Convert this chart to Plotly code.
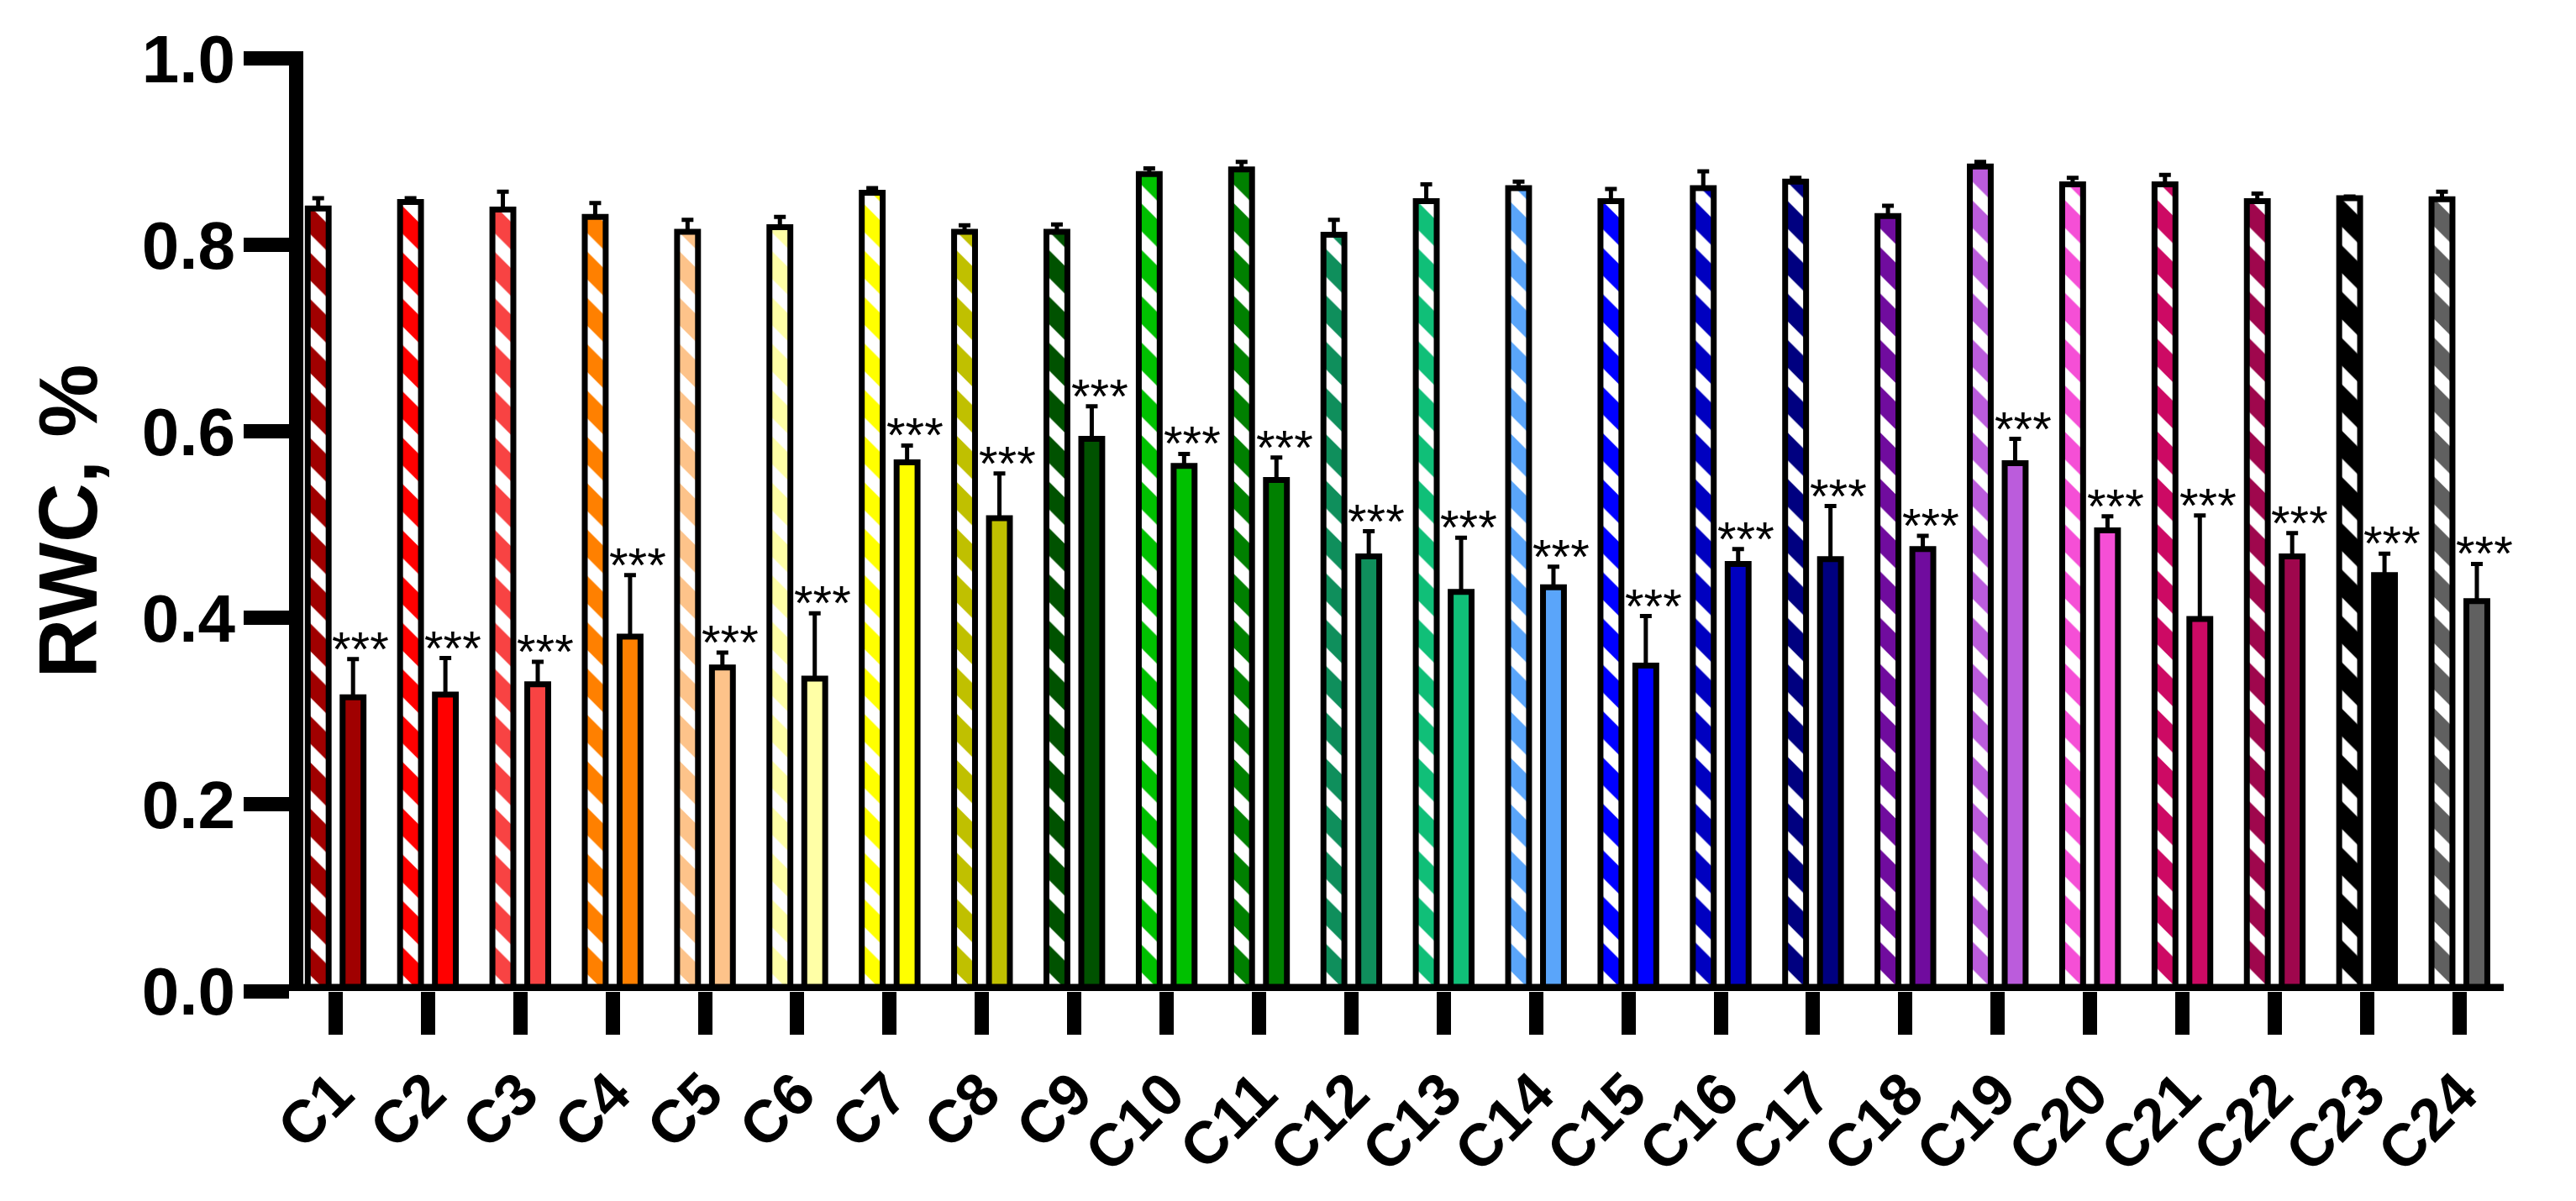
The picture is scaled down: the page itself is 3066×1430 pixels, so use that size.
import plotly.graph_objects as go

# === Data ===
CATEGORIES = [f"C{i}" for i in range(1, 25)]

CONTROL = [0.839, 0.846, 0.838, 0.830, 0.814, 0.819, 0.856, 0.814, 0.814, 0.876, 0.881, 0.811,
           0.847, 0.861, 0.847, 0.861, 0.868, 0.831, 0.884, 0.865, 0.865, 0.847, 0.850, 0.849]
CONTROL_ERR = [0.011, 0.004, 0.019, 0.015, 0.013, 0.011, 0.005, 0.007, 0.008, 0.006, 0.008, 0.016,
               0.018, 0.007, 0.013, 0.018, 0.004, 0.011, 0.005, 0.007, 0.010, 0.008, 0.002, 0.008]
TREATED = [0.315, 0.318, 0.329, 0.380, 0.347, 0.335, 0.567, 0.507, 0.592, 0.563, 0.548, 0.466,
           0.428, 0.433, 0.349, 0.458, 0.463, 0.474, 0.566, 0.494, 0.399, 0.466, 0.446, 0.418]
TREATED_ERR = [0.041, 0.039, 0.024, 0.066, 0.016, 0.070, 0.018, 0.048, 0.035, 0.013, 0.024, 0.027,
               0.058, 0.022, 0.053, 0.016, 0.057, 0.014, 0.026, 0.015, 0.111, 0.025, 0.023, 0.040]
SIGNIF = ["***"] * 24

Y_TICKS = [0.0, 0.2, 0.4, 0.6, 0.8, 1.0]
Y_TICK_LABELS = ["0.0", "0.2", "0.4", "0.6", "0.8", "1.0"]

# === Colors ===
BAR_COLORS = [
    "#a00000", "#ff0000", "#f84343", "#ff8000", "#fdc38a", "#ffffa6",
    "#ffff00", "#c0c000", "#005200", "#00c000", "#008000", "#0f8f5c",
    "#10bf78", "#5aa5fa", "#0000ff", "#0000c0", "#000080", "#700c9e",
    "#bb5cdc", "#f54fd6", "#cd0a64", "#9f074d", "#000000", "#606060",
]

FONT = "Liberation Sans, Arial, sans-serif"

fig = go.Figure()

# Control bars: white diagonal stripes on the group colour.
# marker.color stays scalar so the per-bar pattern colours are respected.
fig.add_trace(go.Bar(
    x=CATEGORIES, y=CONTROL, name="Control",
    marker=dict(
        color="white",
        line=dict(color="black", width=7),
        pattern=dict(shape="\\", bgcolor=BAR_COLORS, fgcolor="white", fgopacity=1,
                     size=39, solidity=0.4, fillmode="replace"),
    ),
    error_y=dict(type="data", symmetric=False, array=CONTROL_ERR,
                 arrayminus=[0] * 24, color="black", thickness=5, width=7),
))

# Treated bars (solid)
fig.add_trace(go.Bar(
    x=CATEGORIES, y=TREATED, name="Treated",
    marker=dict(color=BAR_COLORS, line=dict(color="black", width=7)),
    error_y=dict(type="data", symmetric=False, array=TREATED_ERR,
                 arrayminus=[0] * 24, color="black", thickness=5, width=7),
))

# Significance stars
for cat, val, err, txt in zip(CATEGORIES, TREATED, TREATED_ERR, SIGNIF):
    fig.add_annotation(
        x=cat, y=val + err, text=txt, showarrow=False,
        xref="x", yref="y", xanchor="center", yanchor="bottom",
        xshift=30, yshift=-22,
        font=dict(family=FONT, size=58, color="black"),
    )

# x-axis baseline drawn as a shape so it sits centred on y = 0
fig.add_shape(type="line", xref="paper", yref="y", x0=0, x1=1, y0=0, y1=0,
              line=dict(color="black", width=17), layer="above")

fig.update_layout(
    width=3066, height=1430,
    margin=dict(l=353, r=94, t=53, b=258),
    paper_bgcolor="white", plot_bgcolor="white",
    barmode="group", bargap=0.245, bargroupgap=0.4,
    showlegend=False,
    font=dict(family=FONT, color="black"),
)

fig.update_xaxes(
    range=[-0.35, 23.48], showline=False, showgrid=False, zeroline=False,
    ticks="outside", ticklen=51, tickwidth=17, tickcolor="black",
    tickangle=-45, tickfont=dict(family=FONT, size=71, color="black", weight="bold"),
)

fig.update_yaxes(
    range=[0, 1.0077], showline=True, linewidth=17, linecolor="black",
    showgrid=False, zeroline=False,
    tickmode="array", tickvals=Y_TICKS, ticktext=Y_TICK_LABELS,
    ticks="outside", ticklen=54, tickwidth=17, tickcolor="black",
    ticklabelstandoff=-6,
    tickfont=dict(family=FONT, size=80, color="black", weight="bold"),
    title=dict(text="RWC, %", font=dict(family=FONT, size=98, color="black", weight="bold"),
               standoff=28),
)

fig.write_html("out.html")
